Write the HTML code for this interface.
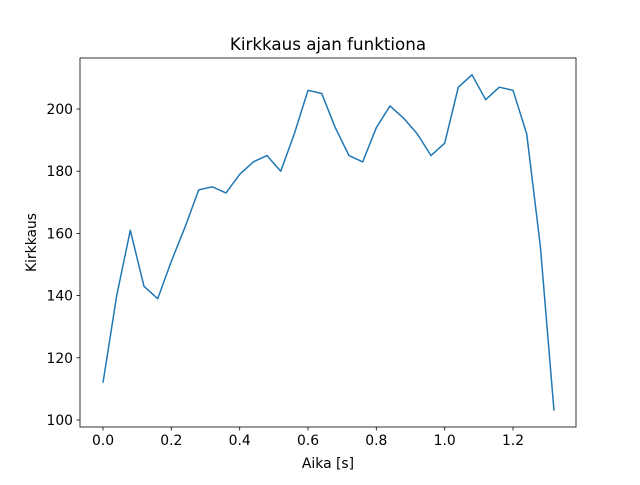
<!DOCTYPE html>
<html><head><meta charset="utf-8"><style>body{margin:0;background:#fff}</style></head><body>
<svg width="640" height="480" viewBox="0 0 640 480" xmlns="http://www.w3.org/2000/svg" font-family="DejaVu Sans, Liberation Sans, sans-serif">
<rect width="640" height="480" fill="#fff"/>
<polyline fill="none" stroke="#1f77b4" stroke-width="1.5" stroke-linejoin="round" points="103,382.7 116.7,295.6 130.3,230.3 144,286.3 157.7,298.7 171.3,261.4 185,227.2 198.7,189.9 212.3,186.8 226,192.9 239.7,174.3 253.3,161.9 267,155.6 280.7,171.2 294.3,133.9 308,90.3 321.7,93.5 335.3,127.7 349,155.6 362.7,161.9 376.3,127.7 390,105.9 403.7,118.3 417.3,133.9 431,155.6 444.7,143.2 458.3,87.2 472,74.8 485.7,99.7 499.3,87.2 513,90.3 526.7,133.9 540.3,245.8 554,410.7"/>
<rect x="80" y="58" width="496" height="369" fill="none" stroke="#000" stroke-width="0.8"/>
<g stroke="#000" stroke-width="0.8">
<line x1="103" y1="427" x2="103" y2="430.5"/><line x1="171.3" y1="427" x2="171.3" y2="430.5"/><line x1="239.7" y1="427" x2="239.7" y2="430.5"/><line x1="308" y1="427" x2="308" y2="430.5"/><line x1="376.3" y1="427" x2="376.3" y2="430.5"/><line x1="444.7" y1="427" x2="444.7" y2="430.5"/><line x1="513" y1="427" x2="513" y2="430.5"/>
<line x1="76.5" y1="420" x2="80" y2="420"/><line x1="76.5" y1="357.8" x2="80" y2="357.8"/><line x1="76.5" y1="295.6" x2="80" y2="295.6"/><line x1="76.5" y1="233.4" x2="80" y2="233.4"/><line x1="76.5" y1="171.2" x2="80" y2="171.2"/><line x1="76.5" y1="109" x2="80" y2="109"/>
</g>
<g font-size="13.9" text-anchor="middle" fill="#000">
<text x="103" y="445">0.0</text><text x="171.3" y="445">0.2</text><text x="239.7" y="445">0.4</text><text x="308" y="445">0.6</text><text x="376.3" y="445">0.8</text><text x="444.7" y="445">1.0</text><text x="513" y="445">1.2</text>
</g>
<g font-size="13.9" text-anchor="end" fill="#000">
<text x="73" y="425">100</text><text x="73" y="362.8">120</text><text x="73" y="300.6">140</text><text x="73" y="238.4">160</text><text x="73" y="176.2">180</text><text x="73" y="114">200</text>
</g>
<text x="328" y="468" font-size="13.9" text-anchor="middle">Aika [s]</text>
<text transform="translate(36,242.5) rotate(-90)" font-size="13.9" text-anchor="middle">Kirkkaus</text>
<text x="328" y="50" font-size="16.7" text-anchor="middle">Kirkkaus ajan funktiona</text>
</svg>
</body></html>
